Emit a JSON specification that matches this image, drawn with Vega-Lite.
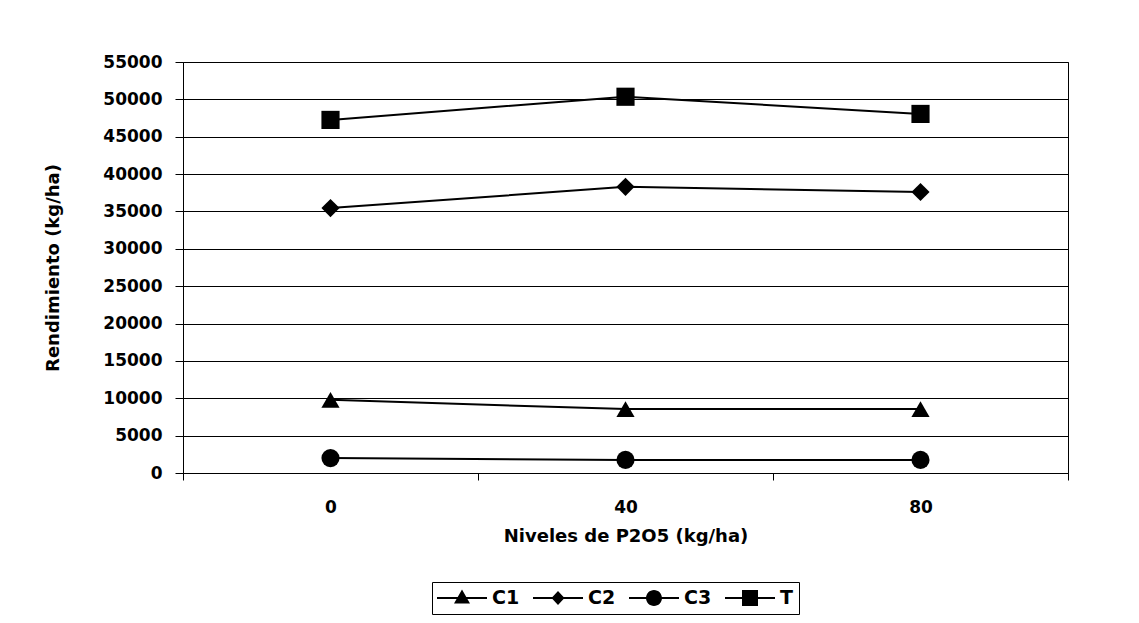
{
  "$schema": "https://vega.github.io/schema/vega-lite/v6.json",
  "width": 885,
  "height": 411,
  "autosize": {"type": "none"},
  "padding": {"left": 183, "top": 62, "right": 71, "bottom": 150},
  "background": "white",
  "config": {
    "font": "DejaVu Sans",
    "view": {"stroke": "black", "strokeWidth": 1},
    "axis": {
      "domainColor": "black",
      "tickColor": "black",
      "labelColor": "black",
      "titleColor": "black",
      "labelFont": "DejaVu Sans",
      "titleFont": "DejaVu Sans",
      "labelFontWeight": "bold",
      "titleFontWeight": "bold"
    }
  },
  "data": {
    "values": [
      {"P": 0, "series": "C1", "y": 9800},
      {"P": 40, "series": "C1", "y": 8550},
      {"P": 80, "series": "C1", "y": 8550},
      {"P": 0, "series": "C2", "y": 35450},
      {"P": 40, "series": "C2", "y": 38300},
      {"P": 80, "series": "C2", "y": 37600},
      {"P": 0, "series": "C3", "y": 2000},
      {"P": 40, "series": "C3", "y": 1750},
      {"P": 80, "series": "C3", "y": 1750},
      {"P": 0, "series": "T", "y": 47250},
      {"P": 40, "series": "T", "y": 50350},
      {"P": 80, "series": "T", "y": 48050}
    ]
  },
  "encoding": {
    "x": {
      "field": "P",
      "type": "ordinal",
      "scale": {"type": "band", "paddingInner": 0, "paddingOuter": 0},
      "axis": {
        "title": "Niveles de P2O5 (kg/ha)",
        "labelAngle": 0,
        "tickBand": "extent",
        "tickSize": 7,
        "labelPadding": 19,
        "labelFontSize": 17,
        "titleFontSize": 18,
        "titlePadding": 12,
        "grid": false
      }
    },
    "y": {
      "field": "y",
      "type": "quantitative",
      "scale": {"domain": [0, 55000], "nice": false},
      "axis": {
        "title": "Rendimiento (kg/ha)",
        "values": [0, 5000, 10000, 15000, 20000, 25000, 30000, 35000, 40000, 45000, 50000, 55000],
        "format": "d",
        "tickSize": 8,
        "labelPadding": 13,
        "labelFontSize": 17,
        "titleFontSize": 18,
        "titlePadding": 40,
        "grid": true,
        "gridColor": "black",
        "gridOpacity": 1,
        "gridWidth": 1
      }
    }
  },
  "resolve": {"scale": {"shape": "independent"}, "legend": {"shape": "independent"}},
  "layer": [
    {
      "mark": {"type": "line", "color": "black", "strokeWidth": 2},
      "encoding": {"detail": {"field": "series", "type": "nominal"}}
    },
    {
      "mark": {"type": "point", "filled": true, "color": "black", "opacity": 1, "size": 330},
      "encoding": {
        "shape": {
          "field": "series",
          "type": "nominal",
          "scale": {"domain": ["C1", "C2", "C3", "T"], "range": ["triangle-up", "diamond", "circle", "square"]},
          "legend": null
        }
      }
    },
    {
      "transform": [{"filter": "false"}],
      "mark": {"type": "point", "filled": true, "color": "black", "opacity": 1},
      "encoding": {
        "shape": {
          "field": "series",
          "type": "nominal",
          "scale": {
            "domain": ["C1", "C2", "C3", "T"],
            "range": [
              "M-2.5,-0.1H2.5V0.1H-2.5ZM0,-0.85L0.8,0.55L-0.8,0.55Z",
              "M-2.5,-0.1H2.5V0.1H-2.5ZM0,-0.7L0.65,0L0,0.7L-0.65,0Z",
              "M-2.5,-0.1H2.5V0.1H-2.5ZM0.8,0C0.8,0.44,0.44,0.8,0,0.8C-0.44,0.8,-0.8,0.44,-0.8,0C-0.8,-0.44,-0.44,-0.8,0,-0.8C0.44,-0.8,0.8,-0.44,0.8,0Z",
              "M-2.5,-0.1H2.5V0.1H-2.5ZM-0.8,-0.8H0.8V0.8H-0.8Z"
            ]
          },
          "legend": {
            "title": null,
            "orient": "none",
            "legendX": 249,
            "legendY": 520,
            "direction": "horizontal",
            "columns": 4,
            "strokeColor": "black",
            "padding": 6,
            "symbolSize": 400,
            "symbolOffset": 14,
            "labelOffset": 20,
            "columnPadding": 13,
            "labelFont": "DejaVu Sans",
            "labelFontSize": 19,
            "labelFontWeight": "bold",
            "labelColor": "black",
            "symbolFillColor": "black",
            "symbolStrokeWidth": 0
          }
        }
      }
    }
  ]
}
